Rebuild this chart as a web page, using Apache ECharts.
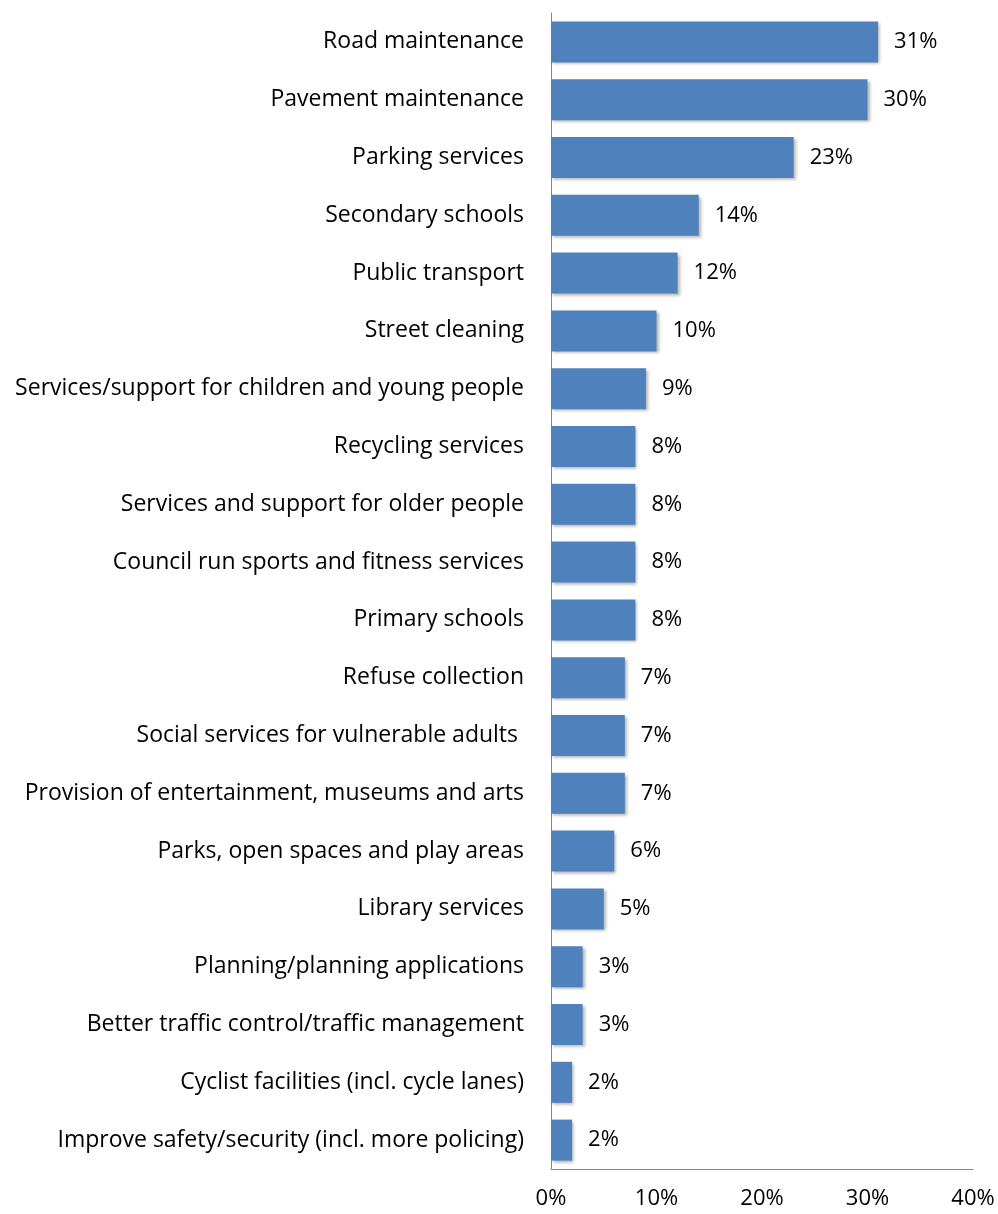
<!DOCTYPE html>
<html>
<head>
<meta charset="utf-8">
<script src="https://cdn.jsdelivr.net/npm/echarts@6/dist/echarts.min.js"></script>
<style>
  html, body { margin: 0; padding: 0; background: #fff; }
  #chart { width: 998px; height: 1214px; }
</style>
</head>
<body>
<div id="chart"></div>
<script>
// Services ranked by share of mentions (%)
const categories = [
  'Road maintenance',
  'Pavement maintenance',
  'Parking services',
  'Secondary schools',
  'Public transport',
  'Street cleaning',
  'Services/support for children and young people',
  'Recycling services',
  'Services and support for older people',
  'Council run sports and fitness services',
  'Primary schools',
  'Refuse collection',
  'Social services for vulnerable adults ',
  'Provision of entertainment, museums and arts',
  'Parks, open spaces and play areas',
  'Library services',
  'Planning/planning applications',
  'Better traffic control/traffic management',
  'Cyclist facilities (incl. cycle lanes)',
  'Improve safety/security (incl. more policing)'
];
const values = [31, 30, 23, 14, 12, 10, 9, 8, 8, 8, 8, 7, 7, 7, 6, 5, 3, 3, 2, 2];

const FONT = '"Open Sans", sans-serif';

const chart = echarts.init(document.getElementById('chart'), null, { renderer: 'canvas' });
chart.setOption({
  animation: false,
  grid: { left: 551, right: 25, top: 13, bottom: 45, containLabel: false },
  xAxis: {
    type: 'value',
    min: 0,
    max: 40,
    interval: 10,
    axisLine: { show: true, lineStyle: { color: '#868686', width: 1 } },
    axisTick: { show: false },
    splitLine: { show: false },
    axisLabel: {
      formatter: '{value}%',
      color: '#000',
      fontFamily: FONT,
      fontSize: 22,
      margin: 19
    }
  },
  yAxis: {
    type: 'category',
    data: categories,
    inverse: true,
    axisLine: { show: true, lineStyle: { color: '#868686', width: 1 } },
    axisTick: { show: false },
    axisLabel: {
      color: '#000',
      fontFamily: FONT,
      fontSize: 23,
      margin: 27
    }
  },
  series: [{
    type: 'bar',
    data: values,
    barCategoryGap: '29%',
    itemStyle: {
      color: '#4F81BD',
      shadowColor: 'rgba(0,0,0,0.3)',
      shadowBlur: 3,
      shadowOffsetX: 2,
      shadowOffsetY: 2
    },
    label: {
      show: true,
      position: 'right',
      distance: 16,
      formatter: '{c}%',
      color: '#000',
      fontFamily: FONT,
      fontSize: 22
    }
  }]
});
</script>
</body>
</html>
